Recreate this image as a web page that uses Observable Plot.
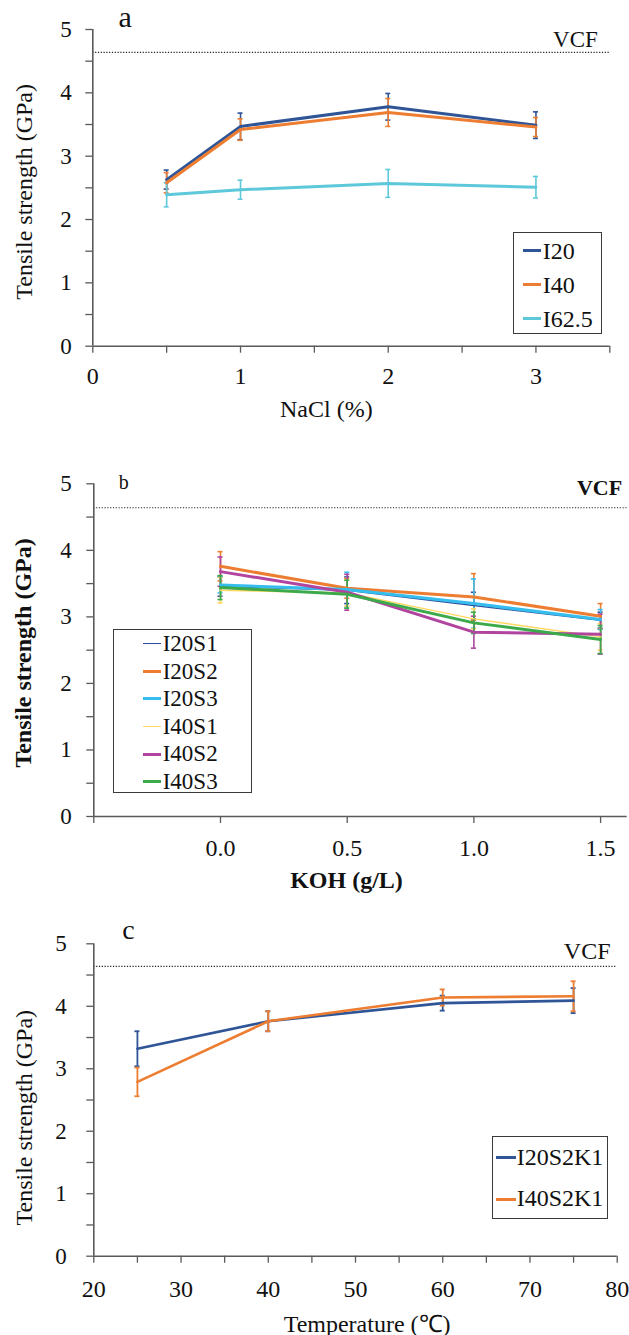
<!DOCTYPE html>
<html><head><meta charset="utf-8">
<script src="https://cdn.jsdelivr.net/npm/d3@7"></script>
<script src="https://cdn.jsdelivr.net/npm/@observablehq/plot@0.6"></script>
<style>
body{margin:0;background:#fff;}
#wrap{position:relative;width:629px;height:1335px;overflow:hidden;background:#fff;font-family:'Liberation Serif';color:#111;}
.panel{position:absolute;left:0;}
.legend{position:absolute;border:1.5px solid #3a3a3a;background:#fff;box-sizing:border-box;}
.sw{position:absolute;}
.lt{position:absolute;white-space:nowrap;}
</style></head><body><div id="wrap"></div>
<script>
// ---------------- data ----------------
const vcf = 4.64;
const yTicks = [0, 0.5, 1, 1.5, 2, 2.5, 3, 3.5, 4, 4.5, 5];
const yTickLabels = ["0", "", "1", "", "2", "", "3", "", "4", "", "5"];

// Panel a: NaCl
const naclX = [0.5, 1, 2, 3];
const naclSeries = ["I20", "I40", "I62.5"];
const naclColors = ["#2F5597", "#ED7D31", "#5EC8DB"];
const naclI20 = [2.63, 3.47, 3.78, 3.49];
const naclI40 = [2.58, 3.42, 3.69, 3.46];
const naclI625 = [2.39, 2.47, 2.57, 2.51];
const naclI20Err = [0.15, 0.21, 0.21, 0.21];
const naclI40Err = [0.16, 0.17, 0.22, 0.15];
const naclI625Err = [0.19, 0.15, 0.22, 0.17];
const naclXTicks = [0, 0.5, 1, 1.5, 2, 2.5, 3, 3.5];
const naclXTickLabels = ["0", "", "1", "", "2", "", "3", ""];

// Panel b: KOH
const kohX = [0.0, 0.5, 1.0, 1.5];
const kohSeries = ["I20S1", "I20S2", "I20S3", "I40S1", "I40S2", "I40S3"];
const kohColors = ["#2F4F9E", "#ED7D31", "#35BDEE", "#FFD75E", "#B0449F", "#3CA94B"];
const kohWidths = [1.4, 3, 3, 1.4, 3, 3];
const kohI20S1 = [3.46, 3.40, 3.17, 2.95];
const kohI20S2 = [3.76, 3.43, 3.30, 3.01];
const kohI20S3 = [3.48, 3.41, 3.20, 2.96];
const kohI40S1 = [3.40, 3.36, 2.97, 2.70];
const kohI40S2 = [3.68, 3.37, 2.77, 2.74];
const kohI40S3 = [3.44, 3.34, 2.91, 2.66];
const kohI20S1Err = [0.15, 0.20, 0.20, 0.12];
const kohI20S2Err = [0.22, 0.15, 0.35, 0.19];
const kohI20S3Err = [0.12, 0.26, 0.37, 0.15];
const kohI40S1Err = [0.19, 0.20, 0.15, 0.20];
const kohI40S2Err = [0.22, 0.27, 0.24, 0.30];
const kohI40S3Err = [0.18, 0.21, 0.16, 0.21];
const kohXTicks = [-0.5, 0, 0.5, 1, 1.5];
const kohXTickLabels = ["", "0.0", "0.5", "1.0", "1.5"];

// Panel c: Temperature
const tempX = [25, 40, 60, 75];
const tempSeries = ["I20S2K1", "I40S2K1"];
const tempColors = ["#2F5597", "#ED7D31"];
const tempI20S2K1 = [3.32, 3.76, 4.05, 4.09];
const tempI40S2K1 = [2.79, 3.76, 4.14, 4.16];
const tempI20S2K1Err = [0.28, 0.16, 0.12, 0.20];
const tempI40S2K1Err = [0.23, 0.16, 0.13, 0.24];
const tempXTicks = [20, 25, 30, 35, 40, 45, 50, 55, 60, 65, 70, 75, 80];
const tempXTickLabels = ["20", "", "30", "", "40", "", "50", "", "60", "", "70", "", "80"];

// ---------------- helpers ----------------
const AX = "#5a5a5a";
const FONT = "Liberation Serif";
function rows(xs, names, vals, errs) {
  const out = [];
  names.forEach((n, k) => xs.forEach((x, i) => out.push({series: n, k, x, y: vals[k][i], e: errs[k][i]})));
  return out;
}
function lab(ticks, labels) { return d => { const i = ticks.findIndex(t => Math.abs(t - d) < 1e-9); return i < 0 ? "" : labels[i]; }; }

function makePanel(cfg) {
  const data = rows(cfg.xs, cfg.names, cfg.vals, cfg.errs);
  const marks = [
    Plot.ruleY([vcf], {stroke: "#222", strokeWidth: 1.2, strokeDasharray: "1.2,1.6"}),
    Plot.axisY({ticks: yTicks, tickFormat: lab(yTicks, yTickLabels), tickSize: 7, tickPadding: cfg.yPad, stroke: AX, strokeWidth: 1.3, fontSize: 23, fontFamily: FONT, label: null}),
    Plot.axisX({ticks: cfg.xTicks, tickFormat: lab(cfg.xTicks, cfg.xLabels), tickSize: 7, tickPadding: cfg.xPad, stroke: AX, strokeWidth: 1.3, fontSize: 24, fontFamily: FONT, label: null}),
    Plot.ruleY([0], {stroke: AX, strokeWidth: 1.6}),
    Plot.ruleX([cfg.xDomain[0]], {stroke: AX, strokeWidth: 1.6}),
  ];
  cfg.names.forEach((n, k) => {
    const d = data.filter(r => r.k === k);
    const c = cfg.colors[k];
    const ew = cfg.errW;
    marks.push(Plot.ruleX(d, {x: "x", y1: r => r.y - r.e, y2: r => r.y + r.e, stroke: c, strokeWidth: ew}));
    marks.push(Plot.ruleY(d, {x1: "x", x2: "x", y: r => r.y + r.e, stroke: c, strokeWidth: ew, insetLeft: -2.5, insetRight: -2.5}));
    marks.push(Plot.ruleY(d, {x1: "x", x2: "x", y: r => r.y - r.e, stroke: c, strokeWidth: ew, insetLeft: -2.5, insetRight: -2.5}));
  });
  cfg.names.forEach((n, k) => {
    const d = data.filter(r => r.k === k);
    marks.push(Plot.line(d, {x: "x", y: "y", stroke: cfg.colors[k], strokeWidth: cfg.widths[k], strokeLinejoin: "miter"}));
  });
  const tw = cfg.bold ? "bold" : "normal";
  marks.push(Plot.text([cfg.yTitle], {frameAnchor: "left", dx: cfg.yTitleDx, dy: cfg.yTitleDy, rotate: -90, fontSize: 24, fontFamily: FONT, fontWeight: tw, textAnchor: "middle", lineAnchor: "middle", fill: "#111"}));
  marks.push(Plot.text([cfg.xTitle], {frameAnchor: "bottom", dx: cfg.xTitleDx, dy: cfg.xTitleDy, fontSize: 24, fontFamily: FONT, fontWeight: tw, textAnchor: "middle", lineAnchor: "bottom", fill: "#111"}));
  marks.push(Plot.text(["VCF"], {frameAnchor: "top-right", dx: cfg.vcfDx, dy: cfg.vcfDy, fontSize: cfg.vcfSize, fontFamily: FONT, fontWeight: tw, textAnchor: "end", lineAnchor: "bottom", fill: "#111"}));
  marks.push(Plot.text([cfg.letter], {frameAnchor: "top-left", dx: cfg.letterDx, dy: cfg.letterDy, fontSize: cfg.letterSize, fontFamily: FONT, textAnchor: "start", lineAnchor: "bottom", fill: "#111"}));

  const svg = Plot.plot({
    width: 629, height: cfg.height,
    marginLeft: cfg.ml, marginRight: cfg.mr, marginTop: cfg.mt, marginBottom: cfg.mb,
    x: {domain: cfg.xDomain},
    y: {domain: [0, 5]},
    style: {fontFamily: FONT, fontSize: "24px", color: "#111", background: "transparent", overflow: "visible"},
    marks
  });
  svg.classList.add("panel");
  svg.style.top = cfg.top + "px";
  svg.style.background = "transparent";
  document.getElementById("wrap").appendChild(svg);
}

function legend(box, items, rowH, firstCenter, swL, swW, txtL, fs) {
  const wrap = document.getElementById("wrap");
  const lg = document.createElement("div");
  lg.className = "legend";
  Object.assign(lg.style, {left: box[0] + "px", top: box[1] + "px", width: (box[2] - box[0]) + "px", height: (box[3] - box[1]) + "px"});
  items.forEach((it, i) => {
    const cy = firstCenter + i * rowH - box[1];
    const sw = document.createElement("div");
    sw.className = "sw";
    Object.assign(sw.style, {left: (swL - box[0]) + "px", top: (cy - it.w / 2) + "px", width: swW + "px", height: it.w + "px", background: it.color});
    lg.appendChild(sw);
    const t = document.createElement("div");
    t.className = "lt";
    t.textContent = it.name;
    Object.assign(t.style, {left: (txtL - box[0]) + "px", top: (cy - rowH / 2) + "px", height: rowH + "px", lineHeight: rowH + "px", fontSize: fs + "px"});
    lg.appendChild(t);
  });
  wrap.appendChild(lg);
}

// ---------------- panel a ----------------
makePanel({
  top: 0, height: 440, ml: 92.3, mr: 19.7, mt: 29, mb: 94.3,
  xDomain: [0, 3.5], xTicks: naclXTicks, xLabels: naclXTickLabels, xPad: 14, yPad: 14,
  xs: naclX, names: naclSeries, colors: naclColors, widths: [3, 3, 3], errW: 1.6,
  vals: [naclI20, naclI40, naclI625], errs: [naclI20Err, naclI40Err, naclI625Err],
  yTitle: "Tensile strength (GPa)", yTitleDx: -68.5, yTitleDy: 4,
  xTitle: "NaCl (%)", xTitleDx: -25, xTitleDy: 71,
  vcfDx: -12, vcfDy: 17.7, vcfSize: 23,
  letter: "a", letterDx: 25.7, letterDy: -2.3, letterSize: 30, bold: false
});

// ---------------- panel b ----------------
makePanel({
  top: 440, height: 440, ml: 93.3, mr: 2.3, mt: 43.3, mb: 64,
  xDomain: [-0.5, 1.605], xTicks: kohXTicks, xLabels: kohXTickLabels, xPad: 15.5, yPad: 15,
  xs: kohX, names: kohSeries, colors: kohColors, widths: kohWidths, errW: 1.6,
  vals: [kohI20S1, kohI20S2, kohI20S3, kohI40S1, kohI40S2, kohI40S3],
  errs: [kohI20S1Err, kohI20S2Err, kohI20S3Err, kohI40S1Err, kohI40S2Err, kohI40S3Err],
  yTitle: "Tensile strength (GPa)", yTitleDx: -70.8, yTitleDy: 2.8,
  xTitle: "KOH (g/L)", xTitleDx: -14, xTitleDy: 71,
  vcfDx: -5, vcfDy: 10.7, vcfSize: 22,
  letter: "b", letterDx: 25, letterDy: 4.7, letterSize: 20, bold: true
});

// ---------------- panel c ----------------
makePanel({
  top: 880, height: 455, ml: 93.3, mr: 12.3, mt: 63.3, mb: 79.3,
  xDomain: [20, 80], xTicks: tempXTicks, xLabels: tempXTickLabels, xPad: 17, yPad: 20,
  xs: tempX, names: tempSeries, colors: tempColors, widths: [2.6, 2.6], errW: 1.8,
  vals: [tempI20S2K1, tempI40S2K1], errs: [tempI20S2K1Err, tempI40S2K1Err],
  yTitle: "Tensile strength (GPa)", yTitleDx: -69.1, yTitleDy: 17.7,
  xTitle: "Temperature (\u2103)", xTitleDx: 11.6, xTitleDy: 75.3,
  vcfDx: -6.7, vcfDy: 15, vcfSize: 24,
  letter: "c", letterDx: 28.4, letterDy: -5, letterSize: 28, bold: false
});

legend([512.7, 232.3, 601.7, 334.3], naclSeries.map((n, i) => ({name: n, color: naclColors[i], w: 3})), 34, 250, 521.7, 18.5, 541.7, 24);
legend([113.3, 629, 251.7, 793.3], kohSeries.map((n, i) => ({name: n, color: kohColors[i], w: kohWidths[i]})), 27.6, 642.7, 141.7, 18.5, 161.7, 23);
legend([491.7, 1135.7, 608.3, 1219], tempSeries.map((n, i) => ({name: n, color: tempColors[i], w: 2.6})), 41.6, 1156.7, 495, 20, 515.7, 24);
</script></body></html>
